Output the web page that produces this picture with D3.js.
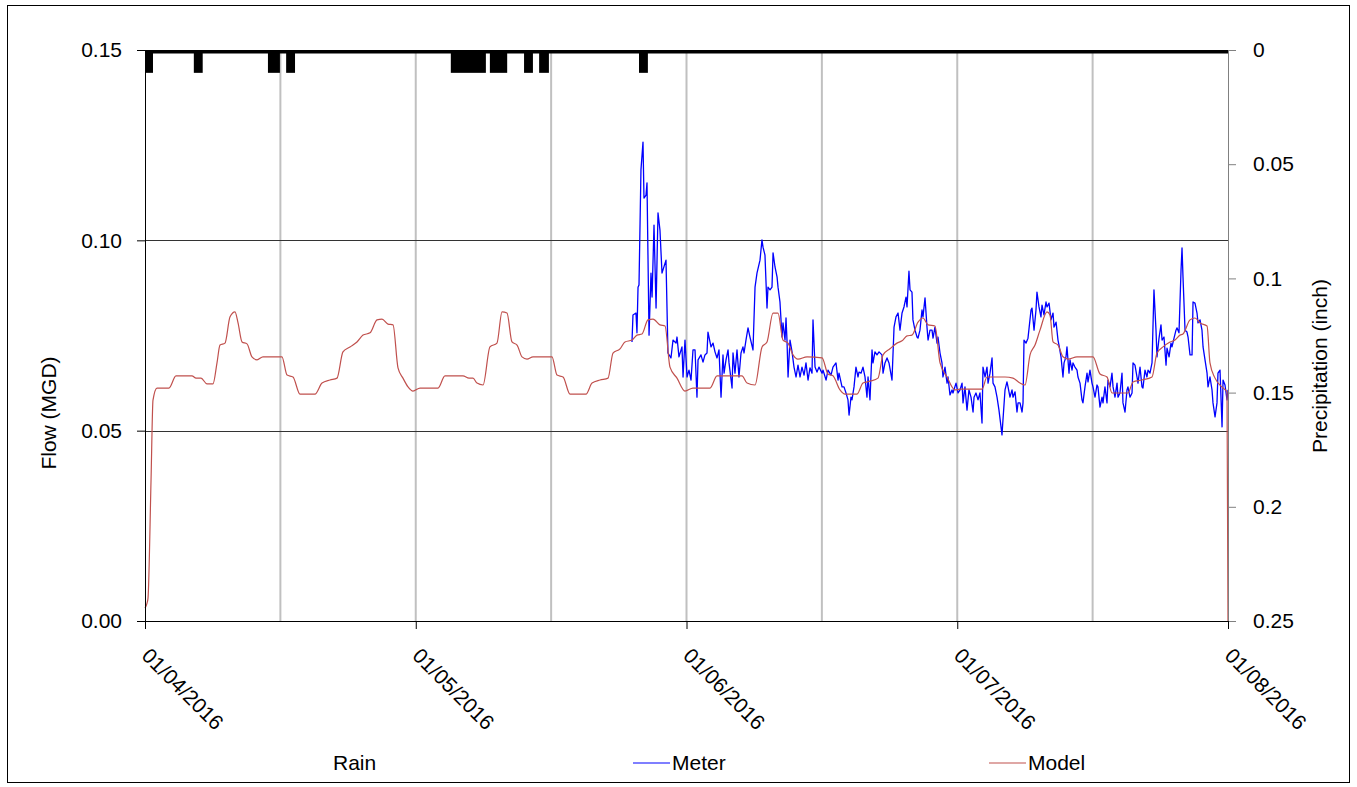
<!DOCTYPE html>
<html>
<head>
<meta charset="utf-8">
<script src="https://cdn.jsdelivr.net/npm/d3@7/dist/d3.min.js"></script>
<style>
  html, body { margin: 0; padding: 0; background: #fff; }
  svg text { font-family: "Liberation Sans", Arial, sans-serif; fill: #000; }
</style>
</head>
<body>
<svg id="chart" width="1357" height="787"></svg>
<script>
// ---- Period: 01/04/2016 .. 01/08/2016, positions in days since 01/04/2016 ----
const totalDays = 122;
const xTickDays = [0, 30.5, 61, 91.5, 122];
const xTickLabels = ["01/04/2016", "01/05/2016", "01/06/2016", "01/07/2016", "01/08/2016"];
const xGridDays = [15.25, 30.5, 45.75, 61, 76.25, 91.5, 106.75];

const flowTicks = [0, 0.05, 0.10, 0.15];
const rainTicks = [0, 0.05, 0.1, 0.15, 0.2, 0.25];

// ---- Rain (inch), each event spans rainStart..rainEnd (days) ----
const rainStart = [0.1, 5.5, 13.85, 15.9, 34.45, 38.85, 42.7, 44.4, 55.65];
const rainEnd   = [0.9, 6.5, 15.2, 16.9, 38.4, 40.8, 43.7, 45.5, 56.65];
const rainInch  = [0.01, 0.01, 0.01, 0.01, 0.01, 0.01, 0.01, 0.01, 0.01];

// ---- Model flow (MGD) ----
const modelDay = [
  0, 0.23, 0.34, 0.68, 0.90, 1.35, 2.70, 3.49, 5.29, 5.75,
  6.31, 6.98, 7.66, 8.11, 8.45, 9.01, 9.58, 10.14, 10.48, 10.93,
  11.49, 12.05, 12.62, 13.29, 15.43, 16.00, 16.67, 17.46, 19.15, 19.94,
  20.84, 21.63, 22.30, 23.09, 23.88, 24.56, 25.35, 26.14, 26.70, 27.37,
  27.94, 28.50, 29.06, 29.63, 30.19, 30.98, 33.01, 33.79, 35.82, 36.50,
  36.95, 37.40, 38.08, 38.86, 39.65, 40.22, 40.78, 41.34, 41.91, 42.47,
  43.03, 43.71, 45.85, 46.41, 47.09, 47.88, 49.68, 50.36, 51.26, 52.16,
  52.72, 53.51, 54.07, 54.86, 55.42, 55.99, 56.66, 57.23, 58.01, 58.58,
  59.14, 59.93, 60.83, 61.73, 63.65, 64.44, 67.25, 67.82, 68.72, 69.51,
  70.07, 70.74, 71.31, 71.87, 72.43, 73.00, 73.56, 74.58, 76.27, 76.94,
  77.50, 78.29, 78.86, 80.21, 80.88, 81.67, 82.57, 83.14, 83.92, 84.71,
  85.28, 85.84, 86.40, 87.08, 87.64, 88.21, 88.99, 89.56, 90.35, 91.25,
  91.81, 94.29, 94.85, 96.88, 97.78, 98.57, 99.13, 99.70, 100.26, 100.82,
  101.61, 101.95, 102.29, 102.85, 103.41, 103.98, 104.99, 106.79, 107.58, 108.37,
  108.93, 110.74, 111.30, 112.31, 113.44, 114.00, 114.68, 115.47, 116.03, 116.59,
  116.93, 117.72, 118.28, 118.85, 119.64, 119.97, 120.54, 121.44, 121.89, 122.00
];
const modelFlow = [
  0.0034, 0.0047, 0.0060, 0.0370, 0.0580, 0.0612, 0.0612, 0.0644, 0.0644, 0.0638,
  0.0638, 0.0623, 0.0623, 0.0678, 0.0725, 0.0730, 0.0799, 0.0812, 0.0783, 0.0733,
  0.0728, 0.0694, 0.0686, 0.0694, 0.0694, 0.0646, 0.0641, 0.0596, 0.0596, 0.0625,
  0.0633, 0.0638, 0.0707, 0.0720, 0.0733, 0.0751, 0.0757, 0.0791, 0.0793, 0.0780,
  0.0778, 0.0665, 0.0638, 0.0615, 0.0604, 0.0612, 0.0612, 0.0644, 0.0644, 0.0638,
  0.0638, 0.0625, 0.0620, 0.0720, 0.0730, 0.0812, 0.0809, 0.0733, 0.0725, 0.0694,
  0.0688, 0.0694, 0.0694, 0.0646, 0.0641, 0.0596, 0.0596, 0.0625, 0.0633, 0.0638,
  0.0704, 0.0715, 0.0733, 0.0738, 0.0751, 0.0754, 0.0791, 0.0793, 0.0778, 0.0775,
  0.0667, 0.0638, 0.0604, 0.0612, 0.0612, 0.0644, 0.0644, 0.0625, 0.0620, 0.0720,
  0.0733, 0.0809, 0.0809, 0.0738, 0.0730, 0.0699, 0.0688, 0.0694, 0.0691, 0.0649,
  0.0644, 0.0607, 0.0596, 0.0596, 0.0625, 0.0630, 0.0638, 0.0699, 0.0715, 0.0730,
  0.0736, 0.0749, 0.0751, 0.0785, 0.0796, 0.0778, 0.0775, 0.0678, 0.0641, 0.0607,
  0.0609, 0.0609, 0.0641, 0.0641, 0.0638, 0.0625, 0.0620, 0.0699, 0.0725, 0.0764,
  0.0812, 0.0804, 0.0733, 0.0725, 0.0694, 0.0688, 0.0694, 0.0694, 0.0649, 0.0641,
  0.0599, 0.0599, 0.0628, 0.0633, 0.0641, 0.0704, 0.0720, 0.0733, 0.0738, 0.0751,
  0.0754, 0.0791, 0.0796, 0.0783, 0.0775, 0.0678, 0.0638, 0.0612, 0.0602, 0.0
];

// ---- Metered flow (MGD) ----
const meterDay = [
  54.86, 54.97, 55.31, 55.42, 55.54, 55.65, 55.87, 56.10, 56.21, 56.44,
  56.55, 56.78, 57.00, 57.12, 57.34, 57.57, 57.79, 58.01, 58.24, 58.69,
  58.91, 59.25, 59.48, 59.82, 59.93, 60.15, 60.49, 60.61, 60.83, 61.06,
  61.28, 61.51, 61.73, 61.96, 62.18, 62.30, 62.63, 62.86, 63.08, 63.31,
  63.42, 63.76, 63.99, 64.21, 64.44, 64.66, 64.89, 65.11, 65.23, 65.45,
  65.68, 65.79, 66.13, 66.24, 66.46, 66.69, 66.91, 67.14, 67.36, 67.48,
  67.70, 67.93, 68.15, 68.49, 68.72, 68.94, 69.28, 69.50, 69.62, 69.84,
  70.07, 70.18, 70.41, 70.63, 70.75, 70.97, 71.20, 71.31, 71.53, 71.76,
  71.87, 72.10, 72.21, 72.32, 72.44, 72.66, 72.89, 73.11, 73.34, 73.56,
  73.79, 74.01, 74.24, 74.46, 74.69, 74.91, 75.14, 75.25, 75.48, 75.70,
  75.93, 76.27, 76.38, 76.72, 76.94, 77.28, 77.50, 77.84, 78.07, 78.18,
  78.52, 78.74, 78.97, 79.19, 79.31, 79.53, 79.64, 79.87, 80.09, 80.32,
  80.43, 80.66, 80.88, 81.11, 81.33, 81.45, 81.67, 81.90, 82.01, 82.23,
  82.46, 82.69, 83.02, 83.14, 83.36, 83.59, 83.81, 84.15, 84.38, 84.60,
  84.83, 85.05, 85.28, 85.50, 85.73, 85.84, 86.06, 86.18, 86.40, 86.51,
  86.74, 86.97, 87.08, 87.30, 87.53, 87.64, 87.87, 88.09, 88.21, 88.43,
  88.66, 88.77, 88.99, 89.22, 89.33, 89.56, 89.78, 89.89, 90.12, 90.35,
  90.46, 90.68, 90.91, 91.02, 91.36, 91.59, 91.81, 92.04, 92.15, 92.37,
  92.60, 92.82, 93.05, 93.28, 93.39, 93.61, 93.84, 94.06, 94.29, 94.40,
  94.63, 94.85, 94.97, 95.19, 95.42, 95.53, 95.75, 95.98, 96.20, 96.54,
  96.65, 96.88, 97.10, 97.22, 97.44, 97.67, 97.78, 98.01, 98.23, 98.35,
  98.57, 98.80, 98.91, 99.02, 99.25, 99.47, 99.81, 99.92, 100.15, 100.37,
  100.48, 100.71, 100.93, 101.05, 101.27, 101.50, 101.61, 101.84, 102.06, 102.29,
  102.40, 102.63, 102.85, 102.96, 103.19, 103.41, 103.53, 103.75, 103.86, 104.09,
  104.20, 104.43, 104.54, 104.76, 104.99, 105.10, 105.33, 105.55, 105.66, 105.89,
  106.12, 106.23, 106.45, 106.68, 106.79, 107.02, 107.24, 107.35, 107.58, 107.81,
  107.92, 108.14, 108.37, 108.48, 108.71, 108.93, 109.05, 109.27, 109.50, 109.61,
  109.83, 110.06, 110.17, 110.40, 110.62, 110.73, 110.96, 111.19, 111.30, 111.52,
  111.75, 111.86, 112.09, 112.31, 112.42, 112.65, 112.87, 112.99, 113.21, 113.44,
  113.66, 113.89, 114.00, 114.23, 114.45, 114.57, 114.79, 115.02, 115.13, 115.36,
  115.58, 115.69, 115.92, 116.14, 116.26, 116.48, 116.71, 116.82, 116.93, 117.16,
  117.38, 117.50, 117.72, 117.95, 118.06, 118.28, 118.51, 118.62, 118.85, 119.07,
  119.19, 119.41, 119.64, 119.75, 119.97, 120.20, 120.31, 120.54, 120.76, 120.87,
  121.10, 121.33, 121.44, 121.66, 121.89, 122.00
];
const meterFlow = [
  0.0733, 0.0804, 0.0809, 0.0757, 0.0877, 0.0883, 0.1185, 0.1258, 0.1111, 0.1119,
  0.1151, 0.0751, 0.0914, 0.0851, 0.1040, 0.0822, 0.1072, 0.1027, 0.0914, 0.0948,
  0.0704, 0.0691, 0.0738, 0.0730, 0.0746, 0.0694, 0.0720, 0.0641, 0.0738, 0.0641,
  0.0659, 0.0633, 0.0712, 0.0712, 0.0588, 0.0686, 0.0699, 0.0680, 0.0699, 0.0704,
  0.0759, 0.0720, 0.0730, 0.0707, 0.0691, 0.0712, 0.0588, 0.0699, 0.0651, 0.0686,
  0.0712, 0.0678, 0.0612, 0.0704, 0.0651, 0.0712, 0.0641, 0.0704, 0.0720, 0.0704,
  0.0738, 0.0770, 0.0746, 0.0712, 0.0877, 0.0914, 0.0948, 0.1001, 0.0982, 0.0961,
  0.0822, 0.0877, 0.0870, 0.0877, 0.0967, 0.0930, 0.0904, 0.0877, 0.0838, 0.0746,
  0.0783, 0.0738, 0.0796, 0.0738, 0.0641, 0.0738, 0.0707, 0.0667, 0.0641, 0.0672,
  0.0641, 0.0667, 0.0646, 0.0678, 0.0633, 0.0665, 0.0651, 0.0791, 0.0667, 0.0654,
  0.0667, 0.0651, 0.0659, 0.0633, 0.0659, 0.0646, 0.0667, 0.0678, 0.0633, 0.0651,
  0.0615, 0.0615, 0.0599, 0.0581, 0.0541, 0.0588, 0.0581, 0.0615, 0.0667, 0.0641,
  0.0654, 0.0651, 0.0667, 0.0641, 0.0588, 0.0641, 0.0581, 0.0712, 0.0678, 0.0707,
  0.0699, 0.0707, 0.0699, 0.0651, 0.0678, 0.0691, 0.0678, 0.0633, 0.0772, 0.0799,
  0.0809, 0.0764, 0.0809, 0.0825, 0.0851, 0.0825, 0.0919, 0.0870, 0.0864, 0.0791,
  0.0764, 0.0746, 0.0743, 0.0764, 0.0817, 0.0799, 0.0849, 0.0772, 0.0738, 0.0764,
  0.0764, 0.0743, 0.0772, 0.0730, 0.0746, 0.0704, 0.0678, 0.0641, 0.0667, 0.0625,
  0.0641, 0.0594, 0.0607, 0.0599, 0.0625, 0.0599, 0.0607, 0.0625, 0.0573, 0.0615,
  0.0554, 0.0607, 0.0588, 0.0549, 0.0588, 0.0599, 0.0581, 0.0599, 0.0520, 0.0667,
  0.0641, 0.0667, 0.0625, 0.0651, 0.0691, 0.0625, 0.0615, 0.0588, 0.0554, 0.0489,
  0.0528, 0.0607, 0.0628, 0.0615, 0.0588, 0.0607, 0.0588, 0.0602, 0.0549, 0.0573,
  0.0573, 0.0549, 0.0573, 0.0738, 0.0730, 0.0743, 0.0817, 0.0822, 0.0764, 0.0817,
  0.0864, 0.0825, 0.0799, 0.0830, 0.0804, 0.0838, 0.0825, 0.0835, 0.0791, 0.0809,
  0.0772, 0.0785, 0.0738, 0.0725, 0.0694, 0.0641, 0.0678, 0.0694, 0.0720, 0.0651,
  0.0686, 0.0659, 0.0678, 0.0667, 0.0659, 0.0641, 0.0625, 0.0581, 0.0573, 0.0615,
  0.0651, 0.0628, 0.0659, 0.0625, 0.0615, 0.0588, 0.0620, 0.0615, 0.0562, 0.0588,
  0.0573, 0.0615, 0.0573, 0.0633, 0.0615, 0.0651, 0.0615, 0.0588, 0.0625, 0.0588,
  0.0599, 0.0651, 0.0573, 0.0549, 0.0607, 0.0615, 0.0588, 0.0599, 0.0678, 0.0672,
  0.0641, 0.0625, 0.0667, 0.0615, 0.0612, 0.0659, 0.0641, 0.0659, 0.0651, 0.0678,
  0.0870, 0.0764, 0.0694, 0.0743, 0.0778, 0.0738, 0.0746, 0.0672, 0.0717, 0.0694,
  0.0730, 0.0720, 0.0743, 0.0764, 0.0770, 0.0757, 0.0922, 0.0980, 0.0904, 0.0764,
  0.0759, 0.0746, 0.0699, 0.0699, 0.0838, 0.0835, 0.0809, 0.0783, 0.0791, 0.0764,
  0.0720, 0.0686, 0.0651, 0.0615, 0.0641, 0.0607, 0.0573, 0.0536, 0.0573, 0.0651,
  0.0659, 0.0510, 0.0633, 0.0620, 0.0581, 0.0607
];

// ---- Layout ----
const W = 1357, H = 787;
const plot = { left: 145, right: 1228, top: 50, bottom: 621 };
const FONT = 21;

const svg = d3.select("#chart");
svg.append("rect").attr("width", W).attr("height", H).attr("fill", "#fff");
svg.append("rect")
  .attr("x", 7.5).attr("y", 5.5).attr("width", 1342).attr("height", 777)
  .attr("fill", "none").attr("stroke", "#000").attr("stroke-width", 1);

const x = d3.scaleLinear().domain([0, totalDays]).range([plot.left, plot.right]);
const yFlow = d3.scaleLinear().domain([0, 0.15]).range([plot.bottom, plot.top]);
const yRain = d3.scaleLinear().domain([0, 0.25]).range([plot.top, plot.bottom]);

// vertical grid
svg.append("g").selectAll("line").data(xGridDays).join("line")
  .attr("x1", d => x(d)).attr("x2", d => x(d))
  .attr("y1", plot.top).attr("y2", plot.bottom)
  .attr("stroke", "#c0c0c0").attr("stroke-width", 2);

// horizontal grid
svg.append("g").selectAll("line").data(flowTicks.filter(d => d > 0 && d < 0.15)).join("line")
  .attr("x1", plot.left).attr("x2", plot.right)
  .attr("y1", d => Math.round(yFlow(d)) + 0.5).attr("y2", d => Math.round(yFlow(d)) + 0.5)
  .attr("stroke", "#333").attr("stroke-width", 1);

// rain bars hanging from the top (inverted secondary axis)
const rain = d3.zip(rainStart, rainEnd, rainInch);
svg.append("g").selectAll("rect").data(rain).join("rect")
  .attr("x", d => x(d[0])).attr("width", d => x(d[1]) - x(d[0]))
  .attr("y", yRain(0)).attr("height", d => yRain(d[2]) - yRain(0))
  .attr("fill", "#000");
// rain baseline along the top
svg.append("line")
  .attr("x1", plot.left).attr("x2", plot.right)
  .attr("y1", yRain(0) + 1.8).attr("y2", yRain(0) + 1.8)
  .attr("stroke", "#000").attr("stroke-width", 3.6);

// lines
const meter = d3.zip(meterDay, meterFlow);
const model = d3.zip(modelDay, modelFlow);
svg.append("path").datum(meter)
  .attr("fill", "none").attr("stroke", "#0000ff").attr("stroke-width", 1.3)
  .attr("stroke-linejoin", "round")
  .attr("d", d3.line().x(d => x(d[0])).y(d => yFlow(d[1])));
svg.append("path").datum(model)
  .attr("fill", "none").attr("stroke", "#c0504d").attr("stroke-width", 1.2)
  .attr("stroke-linejoin", "round")
  .attr("d", d3.line().curve(d3.curveMonotoneX).x(d => x(d[0])).y(d => yFlow(d[1])));

// axes
function styleAxis(g, stroke) {
  g.attr("font-family", null).attr("font-size", null);
  g.selectAll("path.domain").attr("stroke", stroke).attr("stroke-width", 1);
  g.selectAll(".tick line").attr("stroke", stroke).attr("stroke-width", 1);
  g.selectAll(".tick text").style("font-size", FONT + "px").attr("fill", "#000");
}

const gLeft = svg.append("g").attr("transform", `translate(${plot.left},0)`)
  .call(d3.axisLeft(yFlow).tickValues(flowTicks).tickFormat(d3.format(".2f"))
    .tickSize(8).tickSizeOuter(0).tickPadding(15));
styleAxis(gLeft, "#000");

const gRight = svg.append("g").attr("transform", `translate(${plot.right},0)`)
  .call(d3.axisRight(yRain).tickValues(rainTicks).tickFormat(d => String(d))
    .tickSize(8).tickSizeOuter(0).tickPadding(17));
styleAxis(gRight, "#808080");

const gBottom = svg.append("g").attr("transform", `translate(0,${plot.bottom})`)
  .call(d3.axisBottom(x).tickValues(xTickDays).tickFormat((d, i) => xTickLabels[i])
    .tickSize(8).tickSizeOuter(0));
styleAxis(gBottom, "#000");
gBottom.selectAll(".tick text")
  .attr("x", 0).attr("y", 0).attr("dy", null)
  .attr("text-anchor", "start")
  .attr("transform", "translate(-5,36) rotate(45)");

// axis titles
svg.append("text")
  .attr("transform", "translate(56,413) rotate(-90)")
  .attr("text-anchor", "middle").style("font-size", FONT + "px")
  .text("Flow (MGD)");
svg.append("text")
  .attr("transform", "translate(1327,366) rotate(-90)")
  .attr("text-anchor", "middle").style("font-size", FONT + "px")
  .text("Precipitation (inch)");

// legend
const legendY = 763;
const legend = [
  { label: "Rain", x: 333, color: null },
  { label: "Meter", x: 633, color: "#0000ff" },
  { label: "Model", x: 989, color: "#c0504d" }
];
const lg = svg.append("g");
legend.forEach(item => {
  let tx = item.x;
  if (item.color) {
    lg.append("line").attr("x1", item.x).attr("x2", item.x + 37)
      .attr("y1", legendY).attr("y2", legendY)
      .attr("stroke", item.color).attr("stroke-width", 1.2);
    tx = item.x + 39;
  }
  lg.append("text").attr("x", tx).attr("y", legendY).attr("dy", "0.35em")
    .style("font-size", FONT + "px").text(item.label);
});
</script>
</body>
</html>
